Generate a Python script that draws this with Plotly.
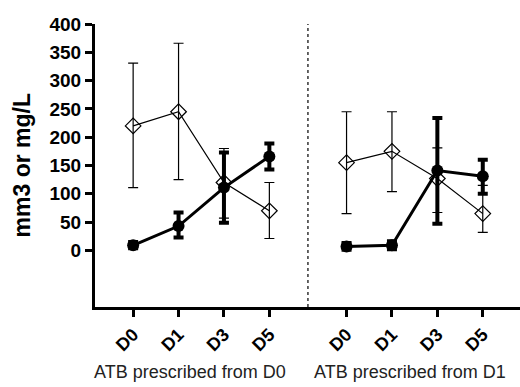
import plotly.graph_objects as go

days = ["D0", "D1", "D3", "D5"]
groups = ["ATB prescribed from D0", "ATB prescribed from D1"]

# Open diamonds (thin line)
open_g1 = [220, 245, 120, 70]
open_g1_hi = [331, 366, 180, 120]
open_g1_lo = [111, 125, 57, 21]
open_g2 = [155, 175, 127, 65]
open_g2_hi = [245, 245, 181, 115]
open_g2_lo = [65, 104, 67, 32]

# Filled circles (thick line)
fill_g1 = [9, 43, 111, 166]
fill_g1_hi = [15, 67, 173, 189]
fill_g1_lo = [4, 23, 49, 143]
fill_g2 = [7, 9, 141, 131]
fill_g2_hi = [13, 16, 234, 160]
fill_g2_lo = [1, 2, 47, 100]

GROUP_OFFSET = 4.7
xs = [[i for i in range(len(days))], [i + GROUP_OFFSET for i in range(len(days))]]

FONT = "Arial, Liberation Sans, sans-serif"
fig = go.Figure()

def add(x, y, hi, lo, filled):
    ep = [h - v for h, v in zip(hi, y)]
    em = [v - l for v, l in zip(y, lo)]
    if filled:
        fig.add_trace(go.Scatter(
            x=x, y=y, mode="lines+markers",
            line=dict(color="black", width=3),
            marker=dict(symbol="circle", size=12, color="black"),
            error_y=dict(type="data", array=ep, arrayminus=em, color="black",
                         thickness=4, width=5),
            showlegend=False, cliponaxis=False, hoverinfo="skip"))
    else:
        fig.add_trace(go.Scatter(
            x=x, y=y, mode="lines+markers",
            line=dict(color="black", width=1.2),
            marker=dict(symbol="diamond-open", size=12, color="black",
                        line=dict(width=1.2)),
            error_y=dict(type="data", array=ep, arrayminus=em, color="black",
                         thickness=1.2, width=5),
            showlegend=False, cliponaxis=False, hoverinfo="skip"))

add(xs[0], open_g1, open_g1_hi, open_g1_lo, False)
add(xs[1], open_g2, open_g2_hi, open_g2_lo, False)
add(xs[0], fill_g1, fill_g1_hi, fill_g1_lo, True)
add(xs[1], fill_g2, fill_g2_hi, fill_g2_lo, True)

divider = (xs[0][-1] + xs[1][0]) / 2
fig.add_shape(type="line", xref="x", yref="paper", x0=divider, x1=divider,
              y0=0, y1=1, line=dict(color="black", width=1.2, dash="dot"))

group_centers = [1.25, 6.1]
for gx, gname in zip(group_centers, groups):
    fig.add_annotation(x=gx, xref="x", y=-0.23, yref="paper", text=gname,
                       showarrow=False, xanchor="center", yanchor="middle",
                       font=dict(family=FONT, size=18, color="#222"))

fig.add_annotation(x=-0.172, xref="paper", y=0.5, yref="paper",
                   text="<b>mm3 or mg/L</b>", textangle=-90, showarrow=False,
                   xanchor="center", yanchor="middle",
                   font=dict(family=FONT, size=23, color="black"))

fig.update_layout(
    width=520, height=387,
    margin=dict(l=95, r=0, t=24, b=80, autoexpand=False),
    paper_bgcolor="white", plot_bgcolor="white",
    showlegend=False,
    xaxis=dict(range=[-0.84, 8.52], tickvals=xs[0] + xs[1],
               ticktext=["<b>%s</b>" % d for d in days] * 2,
               tickangle=-45, ticks="outside", ticklen=7, tickwidth=3,
               tickcolor="black", showline=True, linewidth=3, linecolor="black",
               showgrid=False, zeroline=False, automargin=False,
               tickfont=dict(family=FONT, size=18, color="black")),
    yaxis=dict(range=[-100, 400], tickvals=[0, 50, 100, 150, 200, 250, 300, 350, 400],
               ticktext=["<b>%d</b>" % v for v in range(0, 401, 50)],
               ticks="outside", ticklen=7, tickwidth=3, tickcolor="black",
               showline=True, linewidth=3, linecolor="black",
               showgrid=False, zeroline=False, automargin=False,
               tickfont=dict(family=FONT, size=19, color="black")),
)

fig.write_html("out.html", config={"displayModeBar": False},
               post_script="document.body.style.margin='0';document.body.style.overflow='hidden';")
